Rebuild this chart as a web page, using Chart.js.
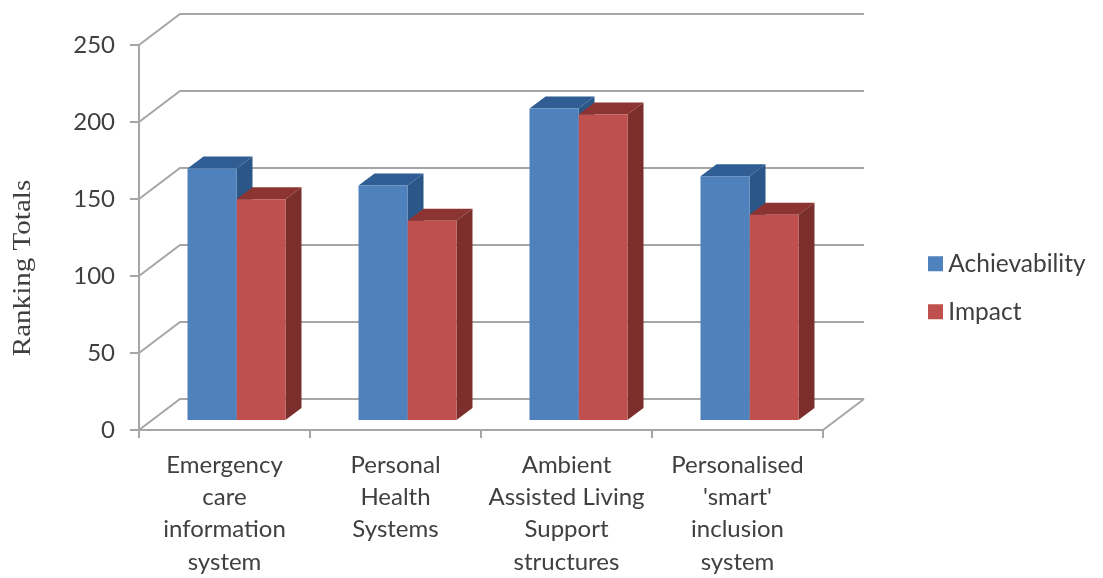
<!DOCTYPE html>
<html>
<head>
<meta charset="utf-8">
<style>
  html, body { margin: 0; padding: 0; background: #fff; }
  #wrap { width: 1103px; height: 578px; }
</style>
<script src="https://cdn.jsdelivr.net/npm/chart.js@4"></script>
</head>
<body>
<div id="wrap"><canvas id="chart" width="1103" height="578"></canvas></div>
<script>
const categories = [
  ["Emergency", "care", "information", "system"],
  ["Personal", "Health", "Systems"],
  ["Ambient", "Assisted Living", "Support", "structures"],
  ["Personalised", "'smart'", "inclusion", "system"]
];
const achievability = [164, 153, 203, 159];
const impact = [144, 130, 199, 134];
const yAxisTitle = "Ranking Totals";

const FRONT = ["#4F81BD", "#C0504D"];
const TOP = ["#2F5D94", "#8C3432"];
const SIDE = ["#2B5688", "#7B2E2C"];
const GRID = "#A6A6A6";
const TEXT = "#404040";

// Pseudo-3D layout: depth of the box and of each column, in pixels.
const WALL_DX = 41, WALL_DY = -31;
const BAR_SHIFT_X = 12, BAR_SHIFT_Y = -9;
const BAR_DX = 16, BAR_DY = -12;

function poly(ctx, pts, fill) {
  ctx.beginPath();
  pts.forEach((p, i) => i ? ctx.lineTo(p[0], p[1]) : ctx.moveTo(p[0], p[1]));
  ctx.closePath();
  ctx.fillStyle = fill;
  ctx.fill();
}

const box3d = {
  id: "box3d",
  afterLayout(chart) {
    // The legend floats in the empty band right of the plot.
    const lg = chart.legend;
    lg.left = 911.5; lg.right = 1103; lg.top = 228; lg.bottom = 578;
  },
  beforeDatasetsDraw(chart) {
    const { ctx, chartArea: a, scales: { y } } = chart;
    ctx.save();
    ctx.strokeStyle = GRID;
    ctx.lineWidth = 2;
    y.ticks.forEach(t => {
      const py = y.getPixelForValue(t.value);
      ctx.beginPath();
      ctx.moveTo(a.left, py);
      ctx.lineTo(a.left + WALL_DX, py + WALL_DY);
      ctx.lineTo(a.right + WALL_DX, py + WALL_DY);
      ctx.stroke();
    });
    // Right edge of the floor
    ctx.beginPath();
    ctx.moveTo(a.right, a.bottom);
    ctx.lineTo(a.right + WALL_DX, a.bottom + WALL_DY);
    ctx.stroke();

    // Top and side faces of the columns, left series first so the right one overlaps it
    ctx.save();
    ctx.translate(BAR_SHIFT_X, BAR_SHIFT_Y);
    chart.data.datasets.forEach((_, i) => {
      chart.getDatasetMeta(i).data.forEach(bar => {
        const { x, y: top, base, width } = bar.getProps(["x", "y", "base", "width"], true);
        const l = x - width / 2, r = x + width / 2;
        poly(ctx, [[l, top], [r, top], [r + BAR_DX, top + BAR_DY], [l + BAR_DX, top + BAR_DY]], TOP[i]);
        poly(ctx, [[r, top], [r + BAR_DX, top + BAR_DY], [r + BAR_DX, base + BAR_DY], [r, base]], SIDE[i]);
      });
    });
    ctx.restore();

    // Axis title, placed lower than the axis midpoint
    ctx.translate(23, 268);
    ctx.rotate(-Math.PI / 2);
    ctx.scale(1.14, 1);
    ctx.font = '25.5px "Liberation Serif"';
    ctx.fillStyle = TEXT;
    ctx.textAlign = "center";
    ctx.textBaseline = "middle";
    ctx.fillText(yAxisTitle, 0, 0);
    ctx.restore();
  },
  // Front faces sit on the floor, set back from the front edge of the box.
  beforeDatasetDraw(chart) {
    chart.ctx.save();
    chart.ctx.translate(BAR_SHIFT_X, BAR_SHIFT_Y);
  },
  afterDatasetDraw(chart) {
    chart.ctx.restore();
  }
};

new Chart(document.getElementById("chart"), {
  type: "bar",
  data: {
    labels: categories,
    datasets: [
      { label: "Achievability", data: achievability, backgroundColor: FRONT[0], clip: false },
      { label: "Impact", data: impact, backgroundColor: FRONT[1], clip: false }
    ]
  },
  plugins: [box3d],
  options: {
    responsive: false,
    animation: false,
    categoryPercentage: 0.573,
    barPercentage: 1,
    layout: { padding: { top: 45, right: 280, left: 0, bottom: 0 } },
    plugins: {
      tooltip: { enabled: false },
      legend: {
        position: "chartArea",
        align: "start",
        labels: {
          usePointStyle: true,
          pointStyle: "rect",
          boxWidth: 1,
          boxHeight: 15,
          padding: 23.5,
          color: TEXT,
          font: { family: "Lato", size: 24.5, lineHeight: 1 }
        }
      }
    },
    scales: {
      x: {
        afterFit(s) { s.height = 148; },
        grid: { drawOnChartArea: false, drawTicks: true, tickLength: 8, color: GRID, lineWidth: 2 },
        border: { color: GRID, width: 2 },
        ticks: {
          autoSkip: false, maxRotation: 0, minRotation: 0, padding: 11,
          color: TEXT,
          font: { family: "Lato", size: 24, lineHeight: 1.346 }
        }
      },
      y: {
        min: 0, max: 250,
        afterFit(s) { s.width = 139; },
        grid: { drawOnChartArea: false, drawTicks: true, tickLength: 9, color: GRID, lineWidth: 2 },
        border: { color: GRID, width: 2 },
        ticks: {
          stepSize: 50, padding: 15,
          color: TEXT,
          font: { family: "Lato", size: 24 }
        }
      }
    }
  }
});
</script>
</body>
</html>
